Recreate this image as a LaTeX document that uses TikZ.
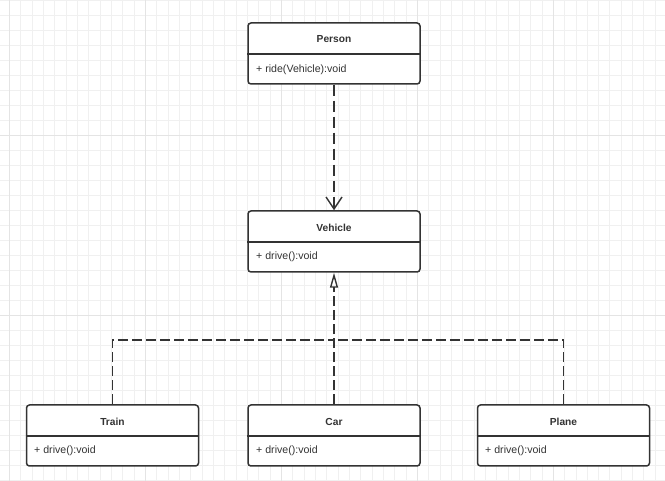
\documentclass[tikz,border=0pt]{standalone}
\usepackage{fontspec}
\setmainfont{Liberation Sans}
\usetikzlibrary{arrows.meta}
\definecolor{ink}{HTML}{333333}
\definecolor{gridminor}{HTML}{F0F0F0}
\definecolor{gridmajor}{HTML}{E4E4E4}
\begin{document}
\begin{tikzpicture}[x=1pt,y=1pt,
  cls/.style={draw=ink, line width=1.5pt, rounded corners=3pt, fill=white,
    minimum width=172pt, minimum height=61pt, inner sep=0pt},
  title/.style={font=\fontsize{10.2}{12}\selectfont\bfseries, text=ink, inner sep=0pt},
  meth/.style={font=\fontsize{10.6}{12}\selectfont, text=ink, inner sep=0pt, anchor=west},
  divline/.style={draw=ink, line width=1.5pt},
  dep/.style={draw=ink, line width=1.6pt, dash pattern=on 11pt off 5pt,
    -{Straight Barb[length=12pt,width=16pt,line width=1.4pt]}},
  real/.style={draw=ink, line width=1.6pt, dash pattern=on 10pt off 4pt},
  realtip/.style={draw=ink, line width=1.6pt,
    -{Triangle[open,length=15pt,width=8pt,line width=1.4pt]}}
]
\useasboundingbox (0,0) rectangle (665,-481);
\fill[white] (0,0) rectangle (665,-481);
% background grid
\foreach \i in {0,...,59} {\draw[gridminor, line width=0.6pt] ({9.3+\i*11.33},0) -- ({9.3+\i*11.33},-481);}
\foreach \i in {0,...,32} {\draw[gridminor, line width=0.6pt] (0,{-(0+\i*15)}) -- (665,{-(0+\i*15)});}
\foreach \x in {9.3,145.3,281.3,417.3,553.3} {\draw[gridmajor, line width=0.7pt] (\x,0) -- (\x,-481);}
\foreach \y in {135,315} {\draw[gridmajor, line width=0.7pt] (0,-\y) -- (665,-\y);}

% classes
\node[cls] (person) at (334,-53.5) {};
\draw[divline] (person.west |- 0,-54) -- (person.east |- 0,-54);
\node[title] (persont) at (334,-39.5) {Person};
\node[meth] (personm) at (256,-70) {+ ride(Vehicle):void};

\node[cls] (vehicle) at (334,-241.5) {};
\draw[divline] (vehicle.west |- 0,-242) -- (vehicle.east |- 0,-242);
\node[title] (vehiclet) at (334,-227.5) {Vehicle};
\node[meth] (vehiclem) at (256,-257) {+ drive():void};

\node[cls] (train) at (112.5,-435.5) {};
\draw[divline] (train.west |- 0,-436) -- (train.east |- 0,-436);
\node[title] (traint) at (112.5,-421.5) {Train};
\node[meth] (trainm) at (34,-451) {+ drive():void};

\node[cls] (car) at (334,-435.5) {};
\draw[divline] (car.west |- 0,-436) -- (car.east |- 0,-436);
\node[title] (cart) at (334,-421.5) {Car};
\node[meth] (carm) at (256,-451) {+ drive():void};

\node[cls] (plane) at (563.5,-435.5) {};
\draw[divline] (plane.west |- 0,-436) -- (plane.east |- 0,-436);
\node[title] (planet) at (563.5,-421.5) {Plane};
\node[meth] (planem) at (485,-451) {+ drive():void};

% dependency
\draw[dep] (person.south) -- (vehicle.north);

% realization
\coordinate (junc) at (334,-340);
\coordinate (stem) at (334,-287);
\draw[real] (car.north) -- (stem);
\draw[realtip] (stem) -- (vehicle.south);
\draw[real] (train.north) |- (junc);
\draw[real] (plane.north) |- (junc);
\end{tikzpicture}
\end{document}
